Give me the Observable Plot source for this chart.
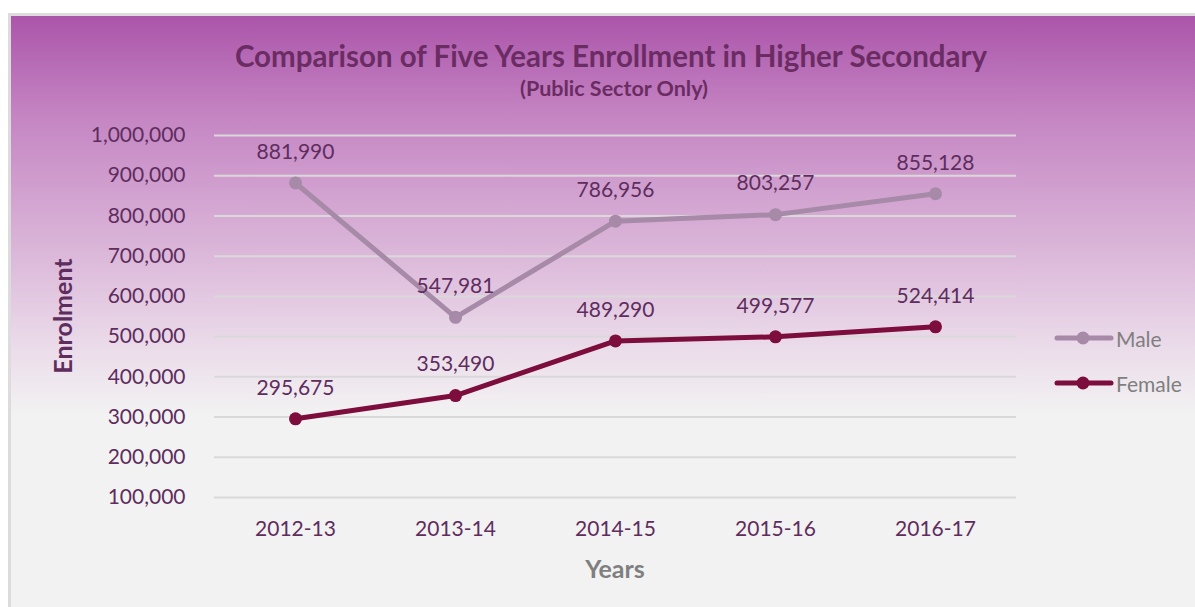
<!DOCTYPE html>
<html>
<head>
<meta charset="utf-8">
<script src="https://cdn.jsdelivr.net/npm/d3@7"></script>
<script src="https://cdn.jsdelivr.net/npm/@observablehq/plot@0.6"></script>
<style>
  html, body { margin: 0; padding: 0; background: #ffffff; }
  #page { position: relative; width: 1195px; height: 607px; overflow: hidden; background: #ffffff; font-family: Lato, "Open Sans", sans-serif; }
  #frame { position: absolute; left: 8px; top: 13px; width: 1200px; height: 610px; border: 3px solid #dcdcdc; box-sizing: border-box;
           background: linear-gradient(to bottom, #ab55aa 0%, #c586c3 17%, #dcb9da 40%, #ebdcea 55%, #f2f2f2 66%, #f2f2f2 100%); }
  .t { position: absolute; white-space: nowrap; }
  #title { left: 611px; top: 55px; transform: translate(-50%, -50%); font-size: 29.5px; font-weight: 700; color: #6b2c63; }
  #subtitle { left: 614px; top: 88px; transform: translate(-50%, -50%); font-size: 21.5px; font-weight: 700; color: #6b2c63; }
  #ylab { left: 62px; top: 316px; transform: translate(-50%, -50%) rotate(-90deg); font-size: 25px; font-weight: 700; color: #5e2d5e; }
  #xlab { left: 615px; top: 568px; transform: translate(-50%, -50%); font-size: 25px; font-weight: 700; color: #7f7f7f; }
  #chart { position: absolute; left: 0; top: 110px; }
  .leg { position: absolute; left: 1054px; height: 20px; display: flex; align-items: center; }
  .leg span { font-size: 21px; color: #7f7f7f; margin-left: 2px; }
</style>
</head>
<body>
<div id="page">
  <div id="frame"></div>
  <div class="t" id="title">Comparison of Five Years Enrollment in Higher Secondary</div>
  <div class="t" id="subtitle">(Public Sector Only)</div>
  <div class="t" id="ylab">Enrolment</div>
  <div class="t" id="xlab">Years</div>
  <div id="chart"></div>
  <div class="leg" id="legMale" style="top:328px"></div>
  <div class="leg" id="legFemale" style="top:373px"></div>
</div>
<script>
const years = ["2012-13", "2013-14", "2014-15", "2015-16", "2016-17"];
const male = [881990, 547981, 786956, 803257, 855128];
const female = [295675, 353490, 489290, 499577, 524414];
const yTicks = [100000, 200000, 300000, 400000, 500000, 600000, 700000, 800000, 900000, 1000000];
const seriesNames = ["Male", "Female"];
const seriesColors = ["#a68aa8", "#7c0d3c"];

const rows = [];
years.forEach((y, i) => {
  rows.push({year: y, value: male[i], series: "Male"});
  rows.push({year: y, value: female[i], series: "Female"});
});
const fmt = d3.format(",");

const plot = Plot.plot({
  width: 1195,
  height: 497,
  marginTop: 25,
  marginBottom: 110,
  marginLeft: 214,
  marginRight: 179,
  style: {background: "transparent", fontFamily: "Lato, 'Open Sans', sans-serif", overflow: "visible"},
  x: {type: "point", domain: years, padding: 0.5, label: null},
  y: {domain: [100000, 1000000], label: null},
  color: {domain: seriesNames, range: seriesColors},
  marks: [
    Plot.ruleY(yTicks, {stroke: "#d9d9d9", strokeWidth: 2}),
    Plot.axisY(yTicks, {tickSize: 0, tickPadding: 29, tickFormat: fmt, fontSize: 21, fill: "#5e2d5e", label: null}),
    Plot.axisX({tickSize: 0, tickPadding: 24, fontSize: 21, fill: "#5e2d5e", label: null}),
    Plot.line(rows, {x: "year", y: "value", z: "series", stroke: "series", strokeWidth: 5, strokeLinecap: "round", strokeLinejoin: "round"}),
    Plot.dot(rows, {x: "year", y: "value", fill: "series", r: 6.5}),
    Plot.text(rows, {x: "year", y: "value", text: d => fmt(d.value), dy: -31, fontSize: 21, fill: "#5e2d5e"})
  ]
});
document.getElementById("chart").appendChild(plot);

function legendItem(id, name, color) {
  const el = document.getElementById(id);
  const svg = d3.create("svg").attr("width", 60).attr("height", 20);
  svg.append("line").attr("x1", 3).attr("x2", 57).attr("y1", 10).attr("y2", 10)
    .attr("stroke", color).attr("stroke-width", 5).attr("stroke-linecap", "round");
  svg.append("circle").attr("cx", 29).attr("cy", 10).attr("r", 6.5).attr("fill", color);
  el.appendChild(svg.node());
  const s = document.createElement("span");
  s.textContent = name;
  el.appendChild(s);
}
legendItem("legMale", seriesNames[0], seriesColors[0]);
legendItem("legFemale", seriesNames[1], seriesColors[1]);
</script>
</body>
</html>
